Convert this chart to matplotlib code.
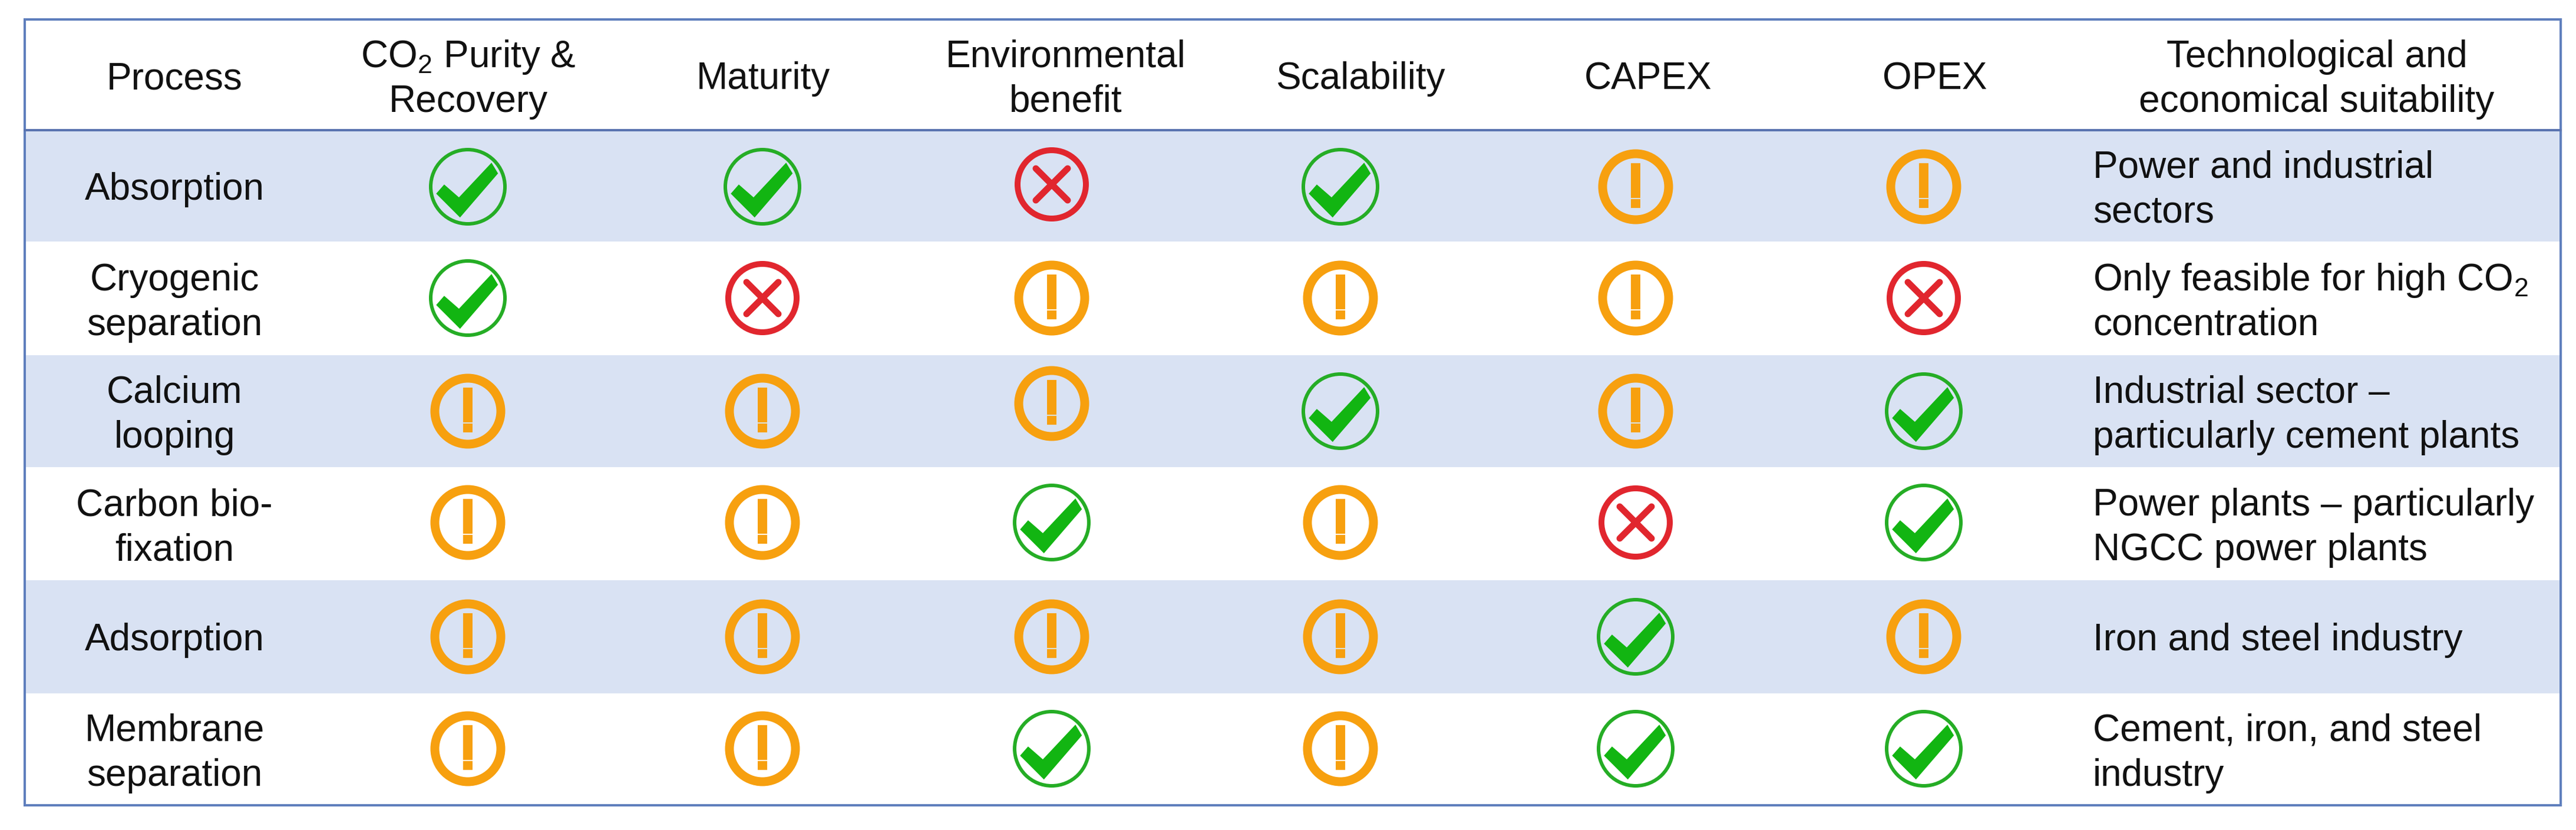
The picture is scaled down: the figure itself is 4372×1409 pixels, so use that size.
import matplotlib
matplotlib.use("Agg")
import matplotlib.pyplot as plt
from matplotlib.patches import Circle, Polygon, Rectangle

plt.rcParams['font.family'] = ['Liberation Sans', 'DejaVu Sans']
plt.rcParams['mathtext.fontset'] = 'custom'
plt.rcParams['mathtext.rm'] = 'Liberation Sans'
plt.rcParams['mathtext.default'] = 'regular'

# Table content
HEADERS = ["Process", "CO$_2$ Purity &\nRecovery", "Maturity", "Environmental\nbenefit",
           "Scalability", "CAPEX", "OPEX", "Technological and\neconomical suitability"]
PROCESSES = ["Absorption", "Cryogenic\nseparation", "Calcium\nlooping",
             "Carbon bio-\nfixation", "Adsorption", "Membrane\nseparation"]
RATINGS = [
    ["ok", "ok", "bad", "ok", "warn", "warn"],
    ["ok", "bad", "warn", "warn", "warn", "bad"],
    ["warn", "warn", "warn", "ok", "warn", "ok"],
    ["warn", "warn", "ok", "warn", "bad", "ok"],
    ["warn", "warn", "warn", "warn", "ok", "warn"],
    ["warn", "warn", "ok", "warn", "ok", "ok"],
]
SUITABILITY = ["Power and industrial\nsectors", "Only feasible for high CO$_2$\nconcentration",
               "Industrial sector –\nparticularly cement plants",
               "Power plants – particularly\nNGCC power plants", "Iron and steel industry",
               "Cement, iron, and steel\nindustry"]

# Layout in image pixels
W, H = 4372, 1409
PX = 0.72  # one image pixel in points at dpi 100
FRAME = (42, 33, 4346, 1367)
HEADER_LINE = 221
ROW_EDGES = [221, 410, 603, 793, 985, 1177, 1367]
HEADER_X = [296, 795, 1295, 1809, 2309, 2797, 3284, 3932]
ICON_X = [794, 1294, 1785, 2275, 2776, 3265]
ICON_Y = [317, 506, 698, 887, 1081, 1271]
ICON_NUDGE = {(0, 2): -4, (2, 2): -13}  # these two sit a bit higher in the original
TEXT_LEFT = 3552
FONT = 46
LINE_GAP = 76
INK = "#111111"
BORDER = "#5f7fbd"
BAND = "#d9e2f3"
GREEN = "#12b512"
RED = "#e1262e"
ORANGE = "#f7a00f"

CHECK_SHAPE = [(-.795, .18), (-.615, -.026), (-.23, .31), (.615, -.59), (.76, -.35), (-.205, .77)]


def draw_ok(ax, x, y):
    ax.add_patch(Circle((x, y), 63, fill=False, ec="#25ad25", lw=6 * PX))
    pts = [(x + 65 * a, y + 65 * b) for a, b in CHECK_SHAPE]
    ax.add_patch(Polygon(pts, closed=True, fc=GREEN, ec=GREEN, lw=3 * PX))


def draw_bad(ax, x, y):
    ax.add_patch(Circle((x, y), 58, fill=False, ec=RED, lw=10 * PX))
    for s in (-1, 1):
        ax.plot([x - 27, x + 27], [y - 27 * s, y + 27 * s], color=RED, lw=11 * PX,
                solid_capstyle="round")


def draw_warn(ax, x, y):
    ax.add_patch(Circle((x, y), 56, fill=False, ec=ORANGE, lw=15 * PX))
    ax.add_patch(Rectangle((x - 8, y - 40), 16, 59, fc=ORANGE, ec="none"))
    ax.add_patch(Rectangle((x - 8, y + 21), 16, 15, fc=ORANGE, ec="none"))


ICONS = {"ok": draw_ok, "bad": draw_bad, "warn": draw_warn}


# One or two lines of text, placed by baseline around the row middle
def put_text(ax, x, yc, label, ha):
    lines = label.split("\n")
    if len(lines) == 1:
        ax.text(x, yc + 23, lines[0], ha=ha, va="baseline", fontsize=FONT, color=INK)
    else:
        ax.text(x, yc - 14, lines[0], ha=ha, va="baseline", fontsize=FONT, color=INK)
        ax.text(x, yc - 14 + LINE_GAP, lines[1], ha=ha, va="baseline", fontsize=FONT, color=INK)


def main():
    fig = plt.figure(figsize=(W / 100, H / 100), dpi=100)
    ax = fig.add_axes([0, 0, 1, 1])
    ax.set_xlim(0, W)
    ax.set_ylim(H, 0)
    ax.axis("off")

    left, top, right, bottom = FRAME

    # Shaded rows, every second one
    for i in range(0, len(PROCESSES), 2):
        ax.add_patch(Rectangle((left, ROW_EDGES[i]), right - left, ROW_EDGES[i + 1] - ROW_EDGES[i],
                               fc=BAND, ec="none"))

    # Frame and header rule
    ax.add_patch(Rectangle((left, top), right - left, bottom - top, fill=False, ec=BORDER, lw=4 * PX))
    ax.plot([left, right], [HEADER_LINE, HEADER_LINE], color="#5a74b0", lw=4 * PX)

    for x, label in zip(HEADER_X, HEADERS):
        put_text(ax, x, 128, label, "center")

    for i, process in enumerate(PROCESSES):
        yc = (ROW_EDGES[i] + ROW_EDGES[i + 1]) / 2
        put_text(ax, HEADER_X[0], yc, process, "center")
        for j, rating in enumerate(RATINGS[i]):
            ICONS[rating](ax, ICON_X[j], ICON_Y[i] + ICON_NUDGE.get((i, j), 0))
        put_text(ax, TEXT_LEFT, yc, SUITABILITY[i], "left")

    fig.savefig("out.png", dpi=100, facecolor="white")


if __name__ == "__main__":
    main()
